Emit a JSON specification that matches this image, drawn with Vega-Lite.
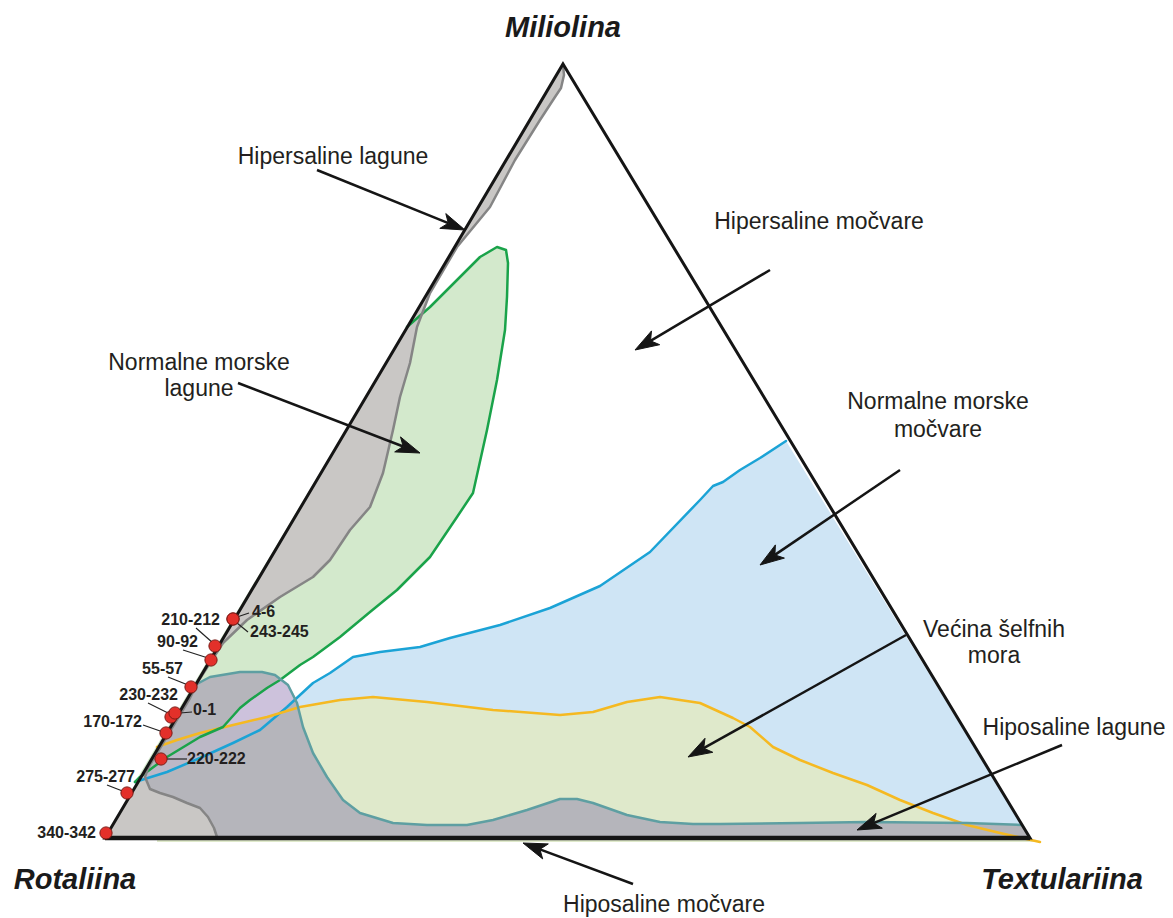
{
"$schema": "https://vega.github.io/schema/vega-lite/v6.json",
"width": 1173, "height": 918, "padding": 0,
"autosize": {"type": "fit", "contains": "padding"},
"background": "white",
"config": {"view": {"stroke": null}},
"datasets": {
"regions": [
{"region":"blue","i":0,"x":135,"y":782},{"region":"blue","i":1,"x":167,"y":772},{"region":"blue","i":2,"x":200,"y":758},{"region":"blue","i":3,"x":233,"y":743},{"region":"blue","i":4,"x":260,"y":730},{"region":"blue","i":5,"x":287,"y":707},{"region":"blue","i":6,"x":313,"y":683},{"region":"blue","i":7,"x":330,"y":673},{"region":"blue","i":8,"x":353,"y":657},{"region":"blue","i":9,"x":380,"y":652},{"region":"blue","i":10,"x":420,"y":647},{"region":"blue","i":11,"x":450,"y":638},{"region":"blue","i":12,"x":500,"y":625},{"region":"blue","i":13,"x":550,"y":608},{"region":"blue","i":14,"x":600,"y":586},{"region":"blue","i":15,"x":650,"y":552},{"region":"blue","i":16,"x":700,"y":500},{"region":"blue","i":17,"x":713,"y":486},{"region":"blue","i":18,"x":723,"y":482},{"region":"blue","i":19,"x":740,"y":470},{"region":"blue","i":20,"x":760,"y":458},{"region":"blue","i":21,"x":786,"y":441},{"region":"blue","i":22,"x":1030,"y":838,"c":1},{"region":"blue","i":23,"x":135,"y":838,"c":1},
{"region":"yellow","i":0,"x":157,"y":747},{"region":"yellow","i":1,"x":177,"y":740},{"region":"yellow","i":2,"x":200,"y":733},{"region":"yellow","i":3,"x":233,"y":725},{"region":"yellow","i":4,"x":267,"y":717},{"region":"yellow","i":5,"x":300,"y":707},{"region":"yellow","i":6,"x":340,"y":700},{"region":"yellow","i":7,"x":373,"y":697},{"region":"yellow","i":8,"x":427,"y":702},{"region":"yellow","i":9,"x":493,"y":710},{"region":"yellow","i":10,"x":560,"y":715},{"region":"yellow","i":11,"x":593,"y":712},{"region":"yellow","i":12,"x":627,"y":702},{"region":"yellow","i":13,"x":660,"y":697},{"region":"yellow","i":14,"x":700,"y":703},{"region":"yellow","i":15,"x":733,"y":718},{"region":"yellow","i":16,"x":750,"y":727},{"region":"yellow","i":17,"x":773,"y":747},{"region":"yellow","i":18,"x":800,"y":760},{"region":"yellow","i":19,"x":833,"y":773},{"region":"yellow","i":20,"x":867,"y":785},{"region":"yellow","i":21,"x":900,"y":800},{"region":"yellow","i":22,"x":933,"y":813},{"region":"yellow","i":23,"x":967,"y":825},{"region":"yellow","i":24,"x":1000,"y":833},{"region":"yellow","i":25,"x":1040,"y":842},{"region":"yellow","i":26,"x":157,"y":842,"c":1},
{"region":"green","i":0,"x":407,"y":327},{"region":"green","i":1,"x":430,"y":307},{"region":"green","i":2,"x":457,"y":280},{"region":"green","i":3,"x":480,"y":257},{"region":"green","i":4,"x":497,"y":247},{"region":"green","i":5,"x":506,"y":250},{"region":"green","i":6,"x":508,"y":263},{"region":"green","i":7,"x":507,"y":297},{"region":"green","i":8,"x":505,"y":330},{"region":"green","i":9,"x":497,"y":380},{"region":"green","i":10,"x":487,"y":430},{"region":"green","i":11,"x":473,"y":493},{"region":"green","i":12,"x":457,"y":517},{"region":"green","i":13,"x":430,"y":557},{"region":"green","i":14,"x":397,"y":590},{"region":"green","i":15,"x":370,"y":612},{"region":"green","i":16,"x":340,"y":637},{"region":"green","i":17,"x":313,"y":657},{"region":"green","i":18,"x":300,"y":665},{"region":"green","i":19,"x":280,"y":680},{"region":"green","i":20,"x":267,"y":688},{"region":"green","i":21,"x":250,"y":700},{"region":"green","i":22,"x":240,"y":708},{"region":"green","i":23,"x":223,"y":727},{"region":"green","i":24,"x":200,"y":737},{"region":"green","i":25,"x":167,"y":757},{"region":"green","i":26,"x":140,"y":777},{"region":"green","i":27,"x":135,"y":782},
{"region":"dark","i":0,"x":195,"y":685},{"region":"dark","i":1,"x":210,"y":677},{"region":"dark","i":2,"x":240,"y":672},{"region":"dark","i":3,"x":262,"y":672},{"region":"dark","i":4,"x":275,"y":675},{"region":"dark","i":5,"x":288,"y":685},{"region":"dark","i":6,"x":297,"y":703},{"region":"dark","i":7,"x":303,"y":727},{"region":"dark","i":8,"x":313,"y":753},{"region":"dark","i":9,"x":327,"y":777},{"region":"dark","i":10,"x":343,"y":800},{"region":"dark","i":11,"x":360,"y":813},{"region":"dark","i":12,"x":393,"y":823},{"region":"dark","i":13,"x":427,"y":825},{"region":"dark","i":14,"x":467,"y":825},{"region":"dark","i":15,"x":493,"y":820},{"region":"dark","i":16,"x":527,"y":810},{"region":"dark","i":17,"x":560,"y":799},{"region":"dark","i":18,"x":577,"y":799},{"region":"dark","i":19,"x":593,"y":803},{"region":"dark","i":20,"x":627,"y":815},{"region":"dark","i":21,"x":660,"y":822},{"region":"dark","i":22,"x":693,"y":824},{"region":"dark","i":23,"x":720,"y":824},{"region":"dark","i":24,"x":800,"y":823},{"region":"dark","i":25,"x":867,"y":822},{"region":"dark","i":26,"x":967,"y":823},{"region":"dark","i":27,"x":1022,"y":825},{"region":"dark","i":28,"x":1030,"y":838,"c":1},{"region":"dark","i":29,"x":105,"y":838,"c":1},
{"region":"lav1","i":0,"x":280,"y":678},{"region":"lav1","i":1,"x":288,"y":685},{"region":"lav1","i":2,"x":296,"y":698},{"region":"lav1","i":3,"x":287,"y":707},{"region":"lav1","i":4,"x":280,"y":713},{"region":"lav1","i":5,"x":267,"y":717},{"region":"lav1","i":6,"x":233,"y":725},{"region":"lav1","i":7,"x":222,"y":727},{"region":"lav1","i":8,"x":240,"y":708},{"region":"lav1","i":9,"x":250,"y":700},{"region":"lav1","i":10,"x":267,"y":688},
{"region":"lav2","i":0,"x":280,"y":713},{"region":"lav2","i":1,"x":260,"y":730},{"region":"lav2","i":2,"x":233,"y":743},{"region":"lav2","i":3,"x":200,"y":758},{"region":"lav2","i":4,"x":167,"y":772},{"region":"lav2","i":5,"x":135,"y":782},{"region":"lav2","i":6,"x":140,"y":777},{"region":"lav2","i":7,"x":167,"y":757},{"region":"lav2","i":8,"x":200,"y":737},{"region":"lav2","i":9,"x":222,"y":727},{"region":"lav2","i":10,"x":233,"y":725},{"region":"lav2","i":11,"x":267,"y":717},
{"region":"lightgrey","i":0,"x":563,"y":64},{"region":"lightgrey","i":1,"x":564,"y":75},{"region":"lightgrey","i":2,"x":561,"y":88},{"region":"lightgrey","i":3,"x":555,"y":97},{"region":"lightgrey","i":4,"x":540,"y":120},{"region":"lightgrey","i":5,"x":515,"y":160},{"region":"lightgrey","i":6,"x":490,"y":207},{"region":"lightgrey","i":7,"x":457,"y":247},{"region":"lightgrey","i":8,"x":430,"y":293},{"region":"lightgrey","i":9,"x":417,"y":327},{"region":"lightgrey","i":10,"x":410,"y":363},{"region":"lightgrey","i":11,"x":400,"y":397},{"region":"lightgrey","i":12,"x":393,"y":430},{"region":"lightgrey","i":13,"x":383,"y":473},{"region":"lightgrey","i":14,"x":370,"y":507},{"region":"lightgrey","i":15,"x":350,"y":530},{"region":"lightgrey","i":16,"x":330,"y":560},{"region":"lightgrey","i":17,"x":313,"y":577},{"region":"lightgrey","i":18,"x":280,"y":597},{"region":"lightgrey","i":19,"x":247,"y":620},{"region":"lightgrey","i":20,"x":223,"y":643},{"region":"lightgrey","i":21,"x":210,"y":663},{"region":"lightgrey","i":22,"x":199,"y":680},{"region":"lightgrey","i":23,"x":190,"y":698},{"region":"lightgrey","i":24,"x":178,"y":718},{"region":"lightgrey","i":25,"x":166,"y":738},{"region":"lightgrey","i":26,"x":156,"y":755},{"region":"lightgrey","i":27,"x":148,"y":768},{"region":"lightgrey","i":28,"x":145,"y":777},{"region":"lightgrey","i":29,"x":150,"y":789},{"region":"lightgrey","i":30,"x":160,"y":793},{"region":"lightgrey","i":31,"x":173,"y":797},{"region":"lightgrey","i":32,"x":187,"y":803},{"region":"lightgrey","i":33,"x":200,"y":808},{"region":"lightgrey","i":34,"x":208,"y":817},{"region":"lightgrey","i":35,"x":214,"y":828},{"region":"lightgrey","i":36,"x":217,"y":837},{"region":"lightgrey","i":37,"x":105,"y":838,"c":1}
],
"edges": [
{"e":"tri","i":0,"x":563,"y":64},{"e":"tri","i":1,"x":1030,"y":838},{"e":"tri","i":2,"x":105,"y":838}
],
"arrows": [
{"a":"A1","i":0,"x":317,"y":170},{"a":"A1","i":1,"x":448.3,"y":223.2},
{"a":"A2","i":0,"x":238,"y":383},{"a":"A2","i":1,"x":403.2,"y":446.5},
{"a":"A3","i":0,"x":770,"y":270},{"a":"A3","i":1,"x":650.5,"y":340.8},
{"a":"A4","i":0,"x":900,"y":470},{"a":"A4","i":1,"x":774.9,"y":554.9},
{"a":"A5","i":0,"x":906,"y":635},{"a":"A5","i":1,"x":703.7,"y":748.2},
{"a":"A6","i":0,"x":1062,"y":745},{"a":"A6","i":1,"x":873.6,"y":823.1},
{"a":"A7","i":0,"x":633,"y":884},{"a":"A7","i":1,"x":539.9,"y":849.3}
],
"heads": [
{"a":"A1","i":0,"x":465,"y":230},{"a":"A1","i":1,"x":439.8,"y":228.4},{"a":"A1","i":2,"x":448.3,"y":223.2},{"a":"A1","i":3,"x":445.8,"y":213.6},
{"a":"A2","i":0,"x":420,"y":453},{"a":"A2","i":1,"x":394.7,"y":451.9},{"a":"A2","i":2,"x":403.2,"y":446.5},{"a":"A2","i":3,"x":400.5,"y":436.9},
{"a":"A3","i":0,"x":635,"y":350},{"a":"A3","i":1,"x":651.5,"y":330.9},{"a":"A3","i":2,"x":650.5,"y":340.8},{"a":"A3","i":3,"x":659.7,"y":344.7},
{"a":"A4","i":0,"x":760,"y":565},{"a":"A4","i":1,"x":775.4,"y":544.9},{"a":"A4","i":2,"x":774.9,"y":554.9},{"a":"A4","i":3,"x":784.4,"y":558.1},
{"a":"A5","i":0,"x":688,"y":757},{"a":"A5","i":1,"x":705.0,"y":738.3},{"a":"A5","i":2,"x":703.7,"y":748.2},{"a":"A5","i":3,"x":712.8,"y":752.3},
{"a":"A6","i":0,"x":857,"y":830},{"a":"A6","i":1,"x":876.1,"y":813.4},{"a":"A6","i":2,"x":873.6,"y":823.1},{"a":"A6","i":3,"x":882.3,"y":828.2},
{"a":"A7","i":0,"x":523,"y":843},{"a":"A7","i":1,"x":548.3,"y":843.9},{"a":"A7","i":2,"x":539.9,"y":849.3},{"a":"A7","i":3,"x":542.7,"y":858.9}
],
"leaders": [
{"l":"4-6","i":0,"x":237,"y":617},{"l":"4-6","i":1,"x":249,"y":613},
{"l":"243-245","i":0,"x":237,"y":623},{"l":"243-245","i":1,"x":248,"y":632},
{"l":"210-212","i":0,"x":196,"y":628},{"l":"210-212","i":1,"x":213,"y":643},
{"l":"90-92","i":0,"x":183,"y":650},{"l":"90-92","i":1,"x":208,"y":658},
{"l":"55-57","i":0,"x":168,"y":677},{"l":"55-57","i":1,"x":188,"y":685},
{"l":"230-232","i":0,"x":148,"y":703},{"l":"230-232","i":1,"x":168,"y":713},
{"l":"0-1","i":0,"x":180,"y":713},{"l":"0-1","i":1,"x":192,"y":712},
{"l":"170-172","i":0,"x":143,"y":725},{"l":"170-172","i":1,"x":163,"y":732},
{"l":"220-222","i":0,"x":167,"y":759},{"l":"220-222","i":1,"x":187,"y":759},
{"l":"275-277","i":0,"x":107,"y":785},{"l":"275-277","i":1,"x":125,"y":792}
],
"samples": [
{"sample":"243-245","x":233,"y":619},{"sample":"4-6","x":233,"y":619},
{"sample":"210-212","x":215,"y":646},{"sample":"90-92","x":211,"y":660},
{"sample":"55-57","x":191,"y":687},{"sample":"230-232","x":171,"y":717},
{"sample":"0-1","x":175,"y":713},{"sample":"170-172","x":166,"y":733},
{"sample":"220-222","x":161,"y":759},{"sample":"275-277","x":127,"y":793},
{"sample":"340-342","x":106,"y":833}
],
"sampleText": [
{"t":"210-212","x":220,"y":620,"side":"right"},{"t":"4-6","x":252,"y":612,"side":"left"},
{"t":"243-245","x":250,"y":632,"side":"left"},{"t":"90-92","x":198,"y":642,"side":"right"},
{"t":"55-57","x":183,"y":669,"side":"right"},{"t":"230-232","x":178,"y":695,"side":"right"},
{"t":"0-1","x":193,"y":710,"side":"left"},{"t":"170-172","x":142,"y":722,"side":"right"},
{"t":"220-222","x":187,"y":759,"side":"left"},{"t":"275-277","x":135,"y":777,"side":"right"},
{"t":"340-342","x":96,"y":833,"side":"right"}
],
"titles": [
{"t":"Miliolina","x":563,"y":28},{"t":"Rotaliina","x":75,"y":880},{"t":"Textulariina","x":1062,"y":880}
],
"labels": [
{"t":"Hipersaline lagune","x":333,"y":157},
{"t":"Normalne morske","x":199,"y":363},{"t":"lagune","x":199,"y":389},
{"t":"Hipersaline močvare","x":819,"y":222},
{"t":"Normalne morske","x":938,"y":402},{"t":"močvare","x":938,"y":430},
{"t":"Većina šelfnih","x":994,"y":630},{"t":"mora","x":994,"y":656},
{"t":"Hiposaline lagune","x":1074,"y":728},
{"t":"Hiposaline močvare","x":664,"y":905}
]
},
"encoding": {
"x": {"field": "x", "type": "quantitative", "axis": null, "scale": {"domain": [0, 1173], "nice": false, "zero": false}},
"y": {"field": "y", "type": "quantitative", "axis": null, "scale": {"domain": [0, 918], "nice": false, "zero": false, "reverse": true}}
},
"layer": [
{"data": {"name": "regions"}, "transform": [{"filter": "datum.region === 'blue'"}], "mark": {"type": "line", "interpolate": "linear-closed", "fill": "#cfe5f5", "strokeWidth": 0}, "encoding": {"order": {"field": "i"}}},
{"data": {"name": "regions"}, "transform": [{"filter": "datum.region === 'yellow'"}], "mark": {"type": "line", "interpolate": "linear-closed", "fill": "#dfe9cb", "strokeWidth": 0}, "encoding": {"order": {"field": "i"}}},
{"data": {"name": "regions"}, "transform": [{"filter": "datum.region === 'green'"}], "mark": {"type": "line", "interpolate": "linear-closed", "fill": "#d3e9cc", "strokeWidth": 0}, "encoding": {"order": {"field": "i"}}},
{"data": {"name": "regions"}, "transform": [{"filter": "datum.region === 'dark'"}], "mark": {"type": "line", "interpolate": "linear-closed", "fill": "#b5b5bb", "strokeWidth": 0}, "encoding": {"order": {"field": "i"}}},
{"data": {"name": "regions"}, "transform": [{"filter": "datum.region === 'lav1'"}], "mark": {"type": "line", "interpolate": "linear-closed", "fill": "#cdc2dc", "strokeWidth": 0}, "encoding": {"order": {"field": "i"}}},
{"data": {"name": "regions"}, "transform": [{"filter": "datum.region === 'lav2'"}], "mark": {"type": "line", "interpolate": "linear-closed", "fill": "#bcb8c7", "strokeWidth": 0}, "encoding": {"order": {"field": "i"}}},
{"data": {"name": "regions"}, "transform": [{"filter": "datum.region === 'lightgrey'"}], "mark": {"type": "line", "interpolate": "linear-closed", "fill": "#c9c7c5", "strokeWidth": 0}, "encoding": {"order": {"field": "i"}}},
{"data": {"name": "regions"}, "transform": [{"filter": "datum.c !== 1 && (datum.region === 'blue' || datum.region === 'yellow' || datum.region === 'green' || datum.region === 'dark' || datum.region === 'lightgrey')"}],
 "mark": {"type": "line", "strokeWidth": 2.5, "strokeJoin": "round", "strokeCap": "round"},
 "encoding": {"order": {"field": "i"}, "color": {"field": "region", "type": "nominal", "legend": null, "scale": {"domain": ["blue", "yellow", "green", "dark", "lightgrey"], "range": ["#1ba3d6", "#f5b921", "#1aa34a", "#5e9fa2", "#858585"]}}}},
{"data": {"name": "edges"}, "mark": {"type": "line", "interpolate": "linear-closed", "stroke": "#151515", "strokeWidth": 3, "strokeJoin": "miter"}, "encoding": {"order": {"field": "i"}}},
{"data": {"name": "edges"}, "transform": [{"filter": "datum.i > 0"}], "mark": {"type": "line", "stroke": "#151515", "strokeWidth": 4.5}, "encoding": {"order": {"field": "i"}}},
{"data": {"name": "arrows"}, "mark": {"type": "line", "stroke": "#151515", "strokeWidth": 2.5}, "encoding": {"order": {"field": "i"}, "detail": {"field": "a"}}},
{"data": {"name": "heads"}, "mark": {"type": "line", "interpolate": "linear-closed", "fill": "#151515", "stroke": "#151515", "strokeWidth": 1}, "encoding": {"order": {"field": "i"}, "detail": {"field": "a"}}},
{"data": {"name": "leaders"}, "mark": {"type": "line", "stroke": "#222222", "strokeWidth": 1.2}, "encoding": {"order": {"field": "i"}, "detail": {"field": "l"}}},
{"data": {"name": "samples"}, "mark": {"type": "point", "shape": "circle", "filled": true, "size": 150, "fill": "#e3302a", "stroke": "#7d1a15", "strokeWidth": 1, "opacity": 1}, "encoding": {}},
{"data": {"name": "sampleText"}, "transform": [{"filter": "datum.side === 'right'"}], "mark": {"type": "text", "align": "right", "baseline": "middle", "font": "Liberation Sans", "fontWeight": "bold", "fontSize": 16, "color": "#231f20"}, "encoding": {"text": {"field": "t"}}},
{"data": {"name": "sampleText"}, "transform": [{"filter": "datum.side === 'left'"}], "mark": {"type": "text", "align": "left", "baseline": "middle", "font": "Liberation Sans", "fontWeight": "bold", "fontSize": 16, "color": "#231f20"}, "encoding": {"text": {"field": "t"}}},
{"data": {"name": "titles"}, "mark": {"type": "text", "align": "center", "baseline": "middle", "font": "Liberation Sans", "fontWeight": "bold", "fontStyle": "italic", "fontSize": 29, "color": "#1a1a1a"}, "encoding": {"text": {"field": "t"}}},
{"data": {"name": "labels"}, "mark": {"type": "text", "align": "center", "baseline": "middle", "font": "Liberation Sans", "fontSize": 23, "color": "#231f20"}, "encoding": {"text": {"field": "t"}}}
]
}
